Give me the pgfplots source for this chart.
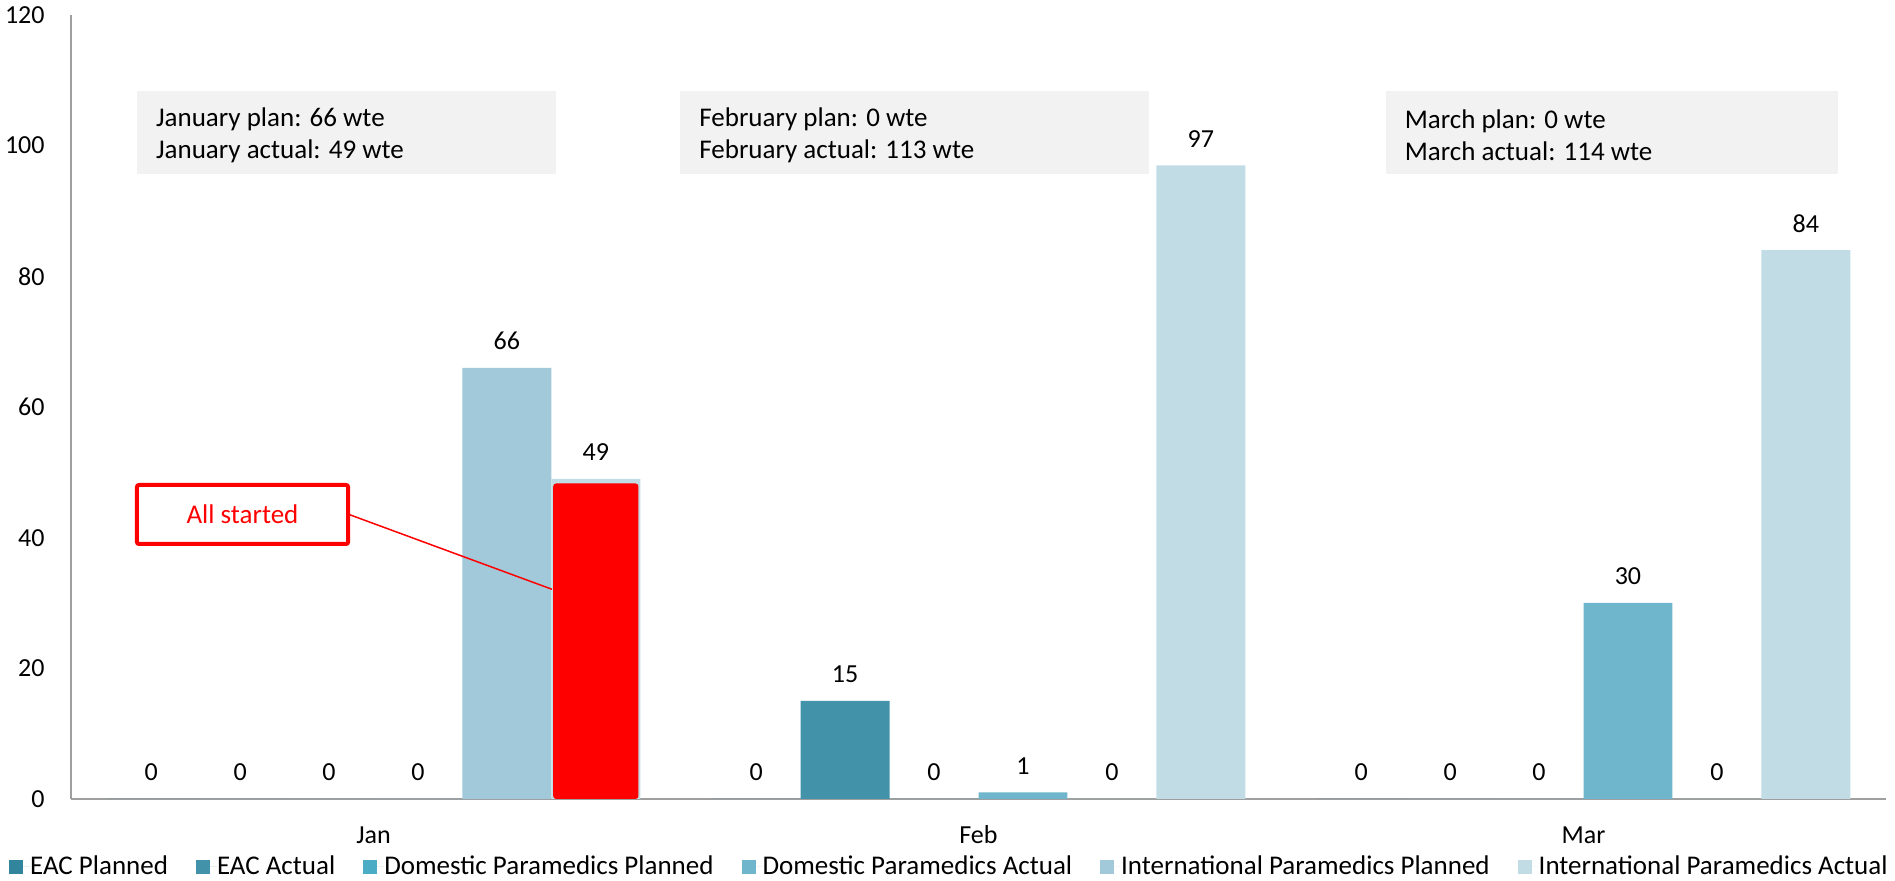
\documentclass[border=0pt]{standalone}
\usepackage{fontspec}
\setmainfont{Carlito}
\usepackage{pgfplots}
\pgfplotsset{compat=1.18}
\definecolor{c1}{HTML}{31859C}
\definecolor{c2}{HTML}{4292AA}
\definecolor{c3}{HTML}{4BACC6}
\definecolor{c4}{HTML}{6FB5CB}
\definecolor{c5}{HTML}{A1C9DA}
\definecolor{c6}{HTML}{C2DCE5}
\definecolor{boxgray}{HTML}{F2F2F2}
\newcommand{\fs}{\fontsize{13}{12.5}\selectfont}
\newcommand{\fa}{\fontsize{13.5}{15.7}\selectfont}
\newcommand{\fl}{\fontsize{13.5}{14}\selectfont}
\begin{document}
\begin{tikzpicture}
\begin{axis}[
  scale only axis, width=907.5pt, height=392pt,
  at={(0,0)}, anchor=south west,
  xmin=-0.5, xmax=2.5, ymin=0, ymax=120,
  axis x line*=bottom, axis y line*=left,
  axis line style={-, draw=gray!75, line width=1pt},
  xtick={0,1,2}, xticklabels={Jan,Feb,Mar},
  ytick={0,20,...,120},
  major tick length=0pt,
  tick label style={font=\fs},
  /pgf/number format/assume math mode=true,
  yticklabel style={anchor=east, inner sep=0pt, xshift=-13pt},
  xticklabel style={anchor=center, inner sep=0pt, yshift=-18pt},
  ybar, bar width=0.147,
  clip=false,
  every node near coord/.append style={font=\fs, anchor=base, inner sep=0pt, yshift=9pt, text=black},
  legend style={at={(0.4834,0)}, anchor=center, yshift=-34pt, draw=none, legend columns=6, font=\fl,
    nodes={inner sep=0pt},
    /tikz/every even column/.append style={column sep=14pt}},
  legend image code/.code={\fill[#1] (0pt,-3.5pt) rectangle (7pt,3.5pt); \path (0pt,0pt) -- (10.5pt,0pt);},
]
\addplot[fill=c1, draw=none, bar shift=-0.3675, nodes near coords] coordinates {(0,0) (1,0) (2,0)};
\addlegendentry{EAC Planned}
\addplot[fill=c2, draw=none, bar shift=-0.2205, nodes near coords] coordinates {(0,0) (1,15) (2,0)};
\addlegendentry{EAC Actual}
\addplot[fill=c3, draw=none, bar shift=-0.0735, nodes near coords] coordinates {(0,0) (1,0) (2,0)};
\addlegendentry{Domestic Paramedics Planned}
\addplot[fill=c4, draw=none, bar shift=0.0735, nodes near coords] coordinates {(0,0) (1,1) (2,30)};
\addlegendentry{Domestic Paramedics Actual}
\addplot[fill=c5, draw=none, bar shift=0.2205, nodes near coords] coordinates {(0,66) (1,0) (2,0)};
\addlegendentry{International Paramedics Planned}
\addplot[fill=c6, draw=none, bar shift=0.3675, nodes near coords] coordinates {(0,49) (1,97) (2,84)};
\addlegendentry{International Paramedics Actual}
\addplot[fill=red, draw=none, bar shift=0.3675, bar width=0.141, rounded corners=1.5pt, forget plot] coordinates {(0,48.3)};

\fill[boxgray] (axis cs:-0.391,95.7) rectangle (axis cs:0.302,108.4);
\node[anchor=west, align=left, font=\fa, inner sep=0pt] at (axis cs:-0.36,101.6) {January plan: 66 wte\\January actual: 49 wte};
\fill[boxgray] (axis cs:0.507,95.7) rectangle (axis cs:1.281,108.4);
\node[anchor=west, align=left, font=\fa, inner sep=0pt] at (axis cs:0.538,101.6) {February plan: 0 wte\\February actual: 113 wte};
\fill[boxgray] (axis cs:1.673,95.7) rectangle (axis cs:2.42,108.4);
\node[anchor=west, align=left, font=\fa, inner sep=0pt] at (axis cs:1.704,101.6) {March plan: 0 wte\\March actual: 114 wte};

\draw[red, line width=0.75pt] (axis cs:-0.042,43.6) -- (axis cs:0.295,32.1);
\draw[red, line width=2pt, fill=white, rounded corners=1pt] (axis cs:-0.391,39.03) rectangle (axis cs:-0.042,48.06);
\node[text=red, font=\fa] at (axis cs:-0.2165,43.55) {All started};
\end{axis}
\pgfresetboundingbox
\path[use as bounding box] (-35.5pt,-41pt) rectangle (912pt,399.5pt);
\end{tikzpicture}
\end{document}
